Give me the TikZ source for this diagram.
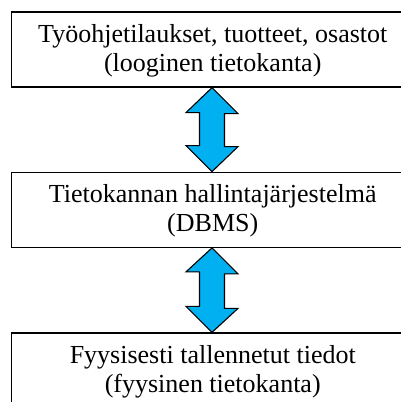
\documentclass[tikz,border=0pt]{standalone}
\usepackage{fontspec}
\setmainfont{Liberation Serif}
\definecolor{arrowblue}{HTML}{00B0F0}
% two centred lines with fixed outer height/depth, so the baselines sit
% at the same place in every box
\newcommand{\twolines}[2]{\rule{0pt}{20pt}#1\\#2\rule[-6pt]{0pt}{6pt}}
\begin{document}
\begin{tikzpicture}[x=1pt,y=-1pt,
  layerbox/.style={draw=black, line width=1.3pt, fill=white, rectangle,
    minimum width=402.5pt, minimum height=75pt, inner sep=0pt,
    align=center, font=\fontsize{26}{29}\selectfont},
  bigarrow/.style={draw=black, line width=1.1pt, fill=arrowblue, line join=miter}]
\useasboundingbox (0,0) rectangle (401,402);
\clip (0,0) rectangle (401,402);

% the three layers of the database architecture
\node[layerbox] (logical) at (212.75,49.5)
  {\twolines{Työohjetilaukset, tuotteet, osastot}{(looginen tietokanta)}};
\node[layerbox] (dbms) at (212.75,209.75)
  {\twolines{Tietokannan hallintajärjestelmä}{(DBMS)}};
\node[layerbox] (physical) at (212.75,370.5)
  {\twolines{Fyysisesti tallennetut tiedot}{(fyysinen tietokanta)}};

% two-way block arrows between the layers
\draw[bigarrow] ([xshift=-0.75pt]logical.south) -- ++(26,26) -- ++(-13.5,0) -- ++(0,33)
  -- ++(13.5,0) -- ([xshift=-0.75pt]dbms.north) -- ++(-26,-26) -- ++(13.5,0)
  -- ++(0,-33) -- ++(-13.5,0) -- cycle;
\draw[bigarrow] ([xshift=-0.75pt]dbms.south) -- ++(26,26) -- ++(-13.5,0) -- ++(0,34.5)
  -- ++(13.5,0) -- ([xshift=-0.75pt]physical.north) -- ++(-26,-26) -- ++(13.5,0)
  -- ++(0,-34.5) -- ++(-13.5,0) -- cycle;
\end{tikzpicture}
\end{document}
